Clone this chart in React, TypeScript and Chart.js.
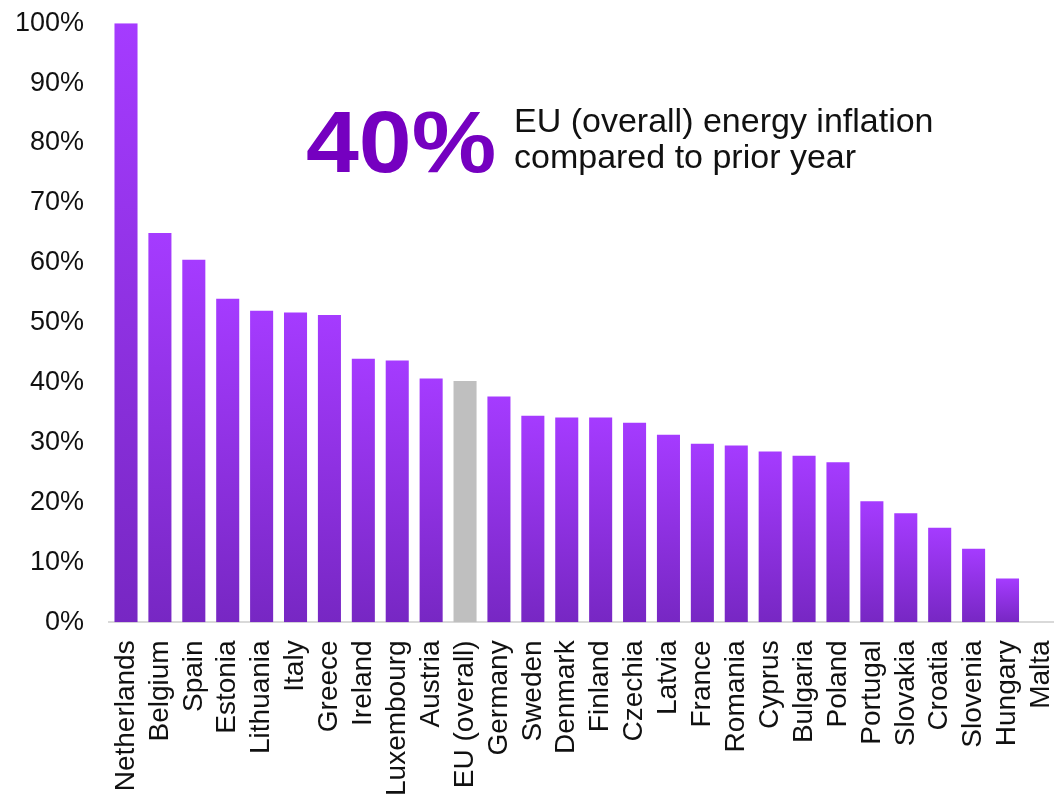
import React, { useEffect, useRef } from "react";
import { Chart, registerables } from "chart.js";

Chart.register(...registerables);

const categories = [
  "Netherlands", "Belgium", "Spain", "Estonia", "Lithuania", "Italy", "Greece",
  "Ireland", "Luxembourg", "Austria", "EU (overall)", "Germany", "Sweden",
  "Denmark", "Finland", "Czechia", "Latvia", "France", "Romania", "Cyprus",
  "Bulgaria", "Poland", "Portugal", "Slovakia", "Croatia", "Slovenia",
  "Hungary", "Malta",
];

const values = [
  100, 65, 60.5, 54, 52, 51.7, 51.3,
  44, 43.7, 40.7, 40.3, 37.7, 34.5,
  34.2, 34.2, 33.3, 31.3, 29.8, 29.5, 28.5,
  27.8, 26.7, 20.2, 18.2, 15.8, 12.3,
  7.3, 0,
];

const highlightCategory = "EU (overall)";
const yMin = 0;
const yMax = 100;
const yStep = 10;

const headlineValue = "40%";
const headlineLines = ["EU (overall) energy inflation", "compared to prior year"];

const FONT = '"Liberation Sans", Arial, sans-serif';

// canvas is shifted relative to the visible page; headline coords are page coords
const OFFSET_X = -24;
const OFFSET_Y = -18;

const headlinePlugin = {
  id: "headline",
  afterDraw(chart: any) {
    const ctx = chart.ctx;
    ctx.save();
    ctx.translate(-OFFSET_X, -OFFSET_Y);
    ctx.textBaseline = "alphabetic";
    ctx.textAlign = "left";
    ctx.fillStyle = "#7500c0";
    ctx.font = `bold 88px ${FONT}`;
    ctx.save();
    ctx.translate(306, 172);
    ctx.scale(1.08, 1);
    ctx.fillText(headlineValue, 0, 0);
    ctx.restore();
    ctx.fillStyle = "#111111";
    ctx.font = `34px ${FONT}`;
    ctx.fillText(headlineLines[0], 514, 132);
    ctx.fillText(headlineLines[1], 514, 168);
    ctx.restore();
  },
};

export default function App() {
  const ref = useRef<HTMLCanvasElement | null>(null);

  useEffect(() => {
    if (!ref.current) return;
    const chart = new Chart(ref.current, {
      type: "bar",
      data: {
        labels: categories,
        datasets: [
          {
            data: values,
            barPercentage: 0.68,
            categoryPercentage: 1,
            borderWidth: 0,
            backgroundColor: (c: any) => {
              const ch = c.chart;
              const { chartArea, scales } = ch;
              if (categories[c.dataIndex] === highlightCategory) return "#bfbfbf";
              if (!chartArea || !scales || !scales.y || c.type !== "data") return "#a53bff";
              const v = values[c.dataIndex];
              const y0 = scales.y.getPixelForValue(0);
              const y1 = scales.y.getPixelForValue(v);
              if (Math.abs(y0 - y1) < 1) return "#a53bff";
              const g = ch.ctx.createLinearGradient(0, y1, 0, y0);
              g.addColorStop(0, "#a53bff");
              g.addColorStop(1, "#7727c3");
              return g;
            },
          },
        ],
      },
      options: {
        animation: false,
        responsive: true,
        maintainAspectRatio: false,
        layout: { padding: { left: 14, top: 8, right: 0, bottom: 0 } },
        plugins: {
          legend: { display: false },
          tooltip: { enabled: false },
          title: { display: false },
        },
        scales: {
          x: {
            grid: { display: false, drawTicks: false },
            border: { display: true, color: "#d9d9d9", width: 2 },
            ticks: {
              minRotation: 90,
              maxRotation: 90,
              autoSkip: false,
              padding: 18,
              color: "#111111",
              font: { family: FONT, size: 28 },
            },
          },
          y: {
            min: yMin,
            max: yMax,
            grid: { display: false, drawTicks: false },
            border: { display: false },
            ticks: {
              stepSize: yStep,
              padding: 25,
              color: "#111111",
              font: { family: FONT, size: 27 },
              callback: (v: any) => `${v}%`,
            },
          },
        },
      },
      plugins: [headlinePlugin],
    });
    return () => chart.destroy();
  }, []);

  return (
    <div
      style={{
        position: "fixed",
        left: 0,
        top: 0,
        width: 1054,
        height: 795,
        overflow: "hidden",
        background: "#ffffff",
      }}
    >
      <div
        style={{
          position: "absolute",
          left: OFFSET_X,
          top: OFFSET_Y,
          width: 1117,
          height: 832,
        }}
      >
        <canvas ref={ref} />
      </div>
    </div>
  );
}
